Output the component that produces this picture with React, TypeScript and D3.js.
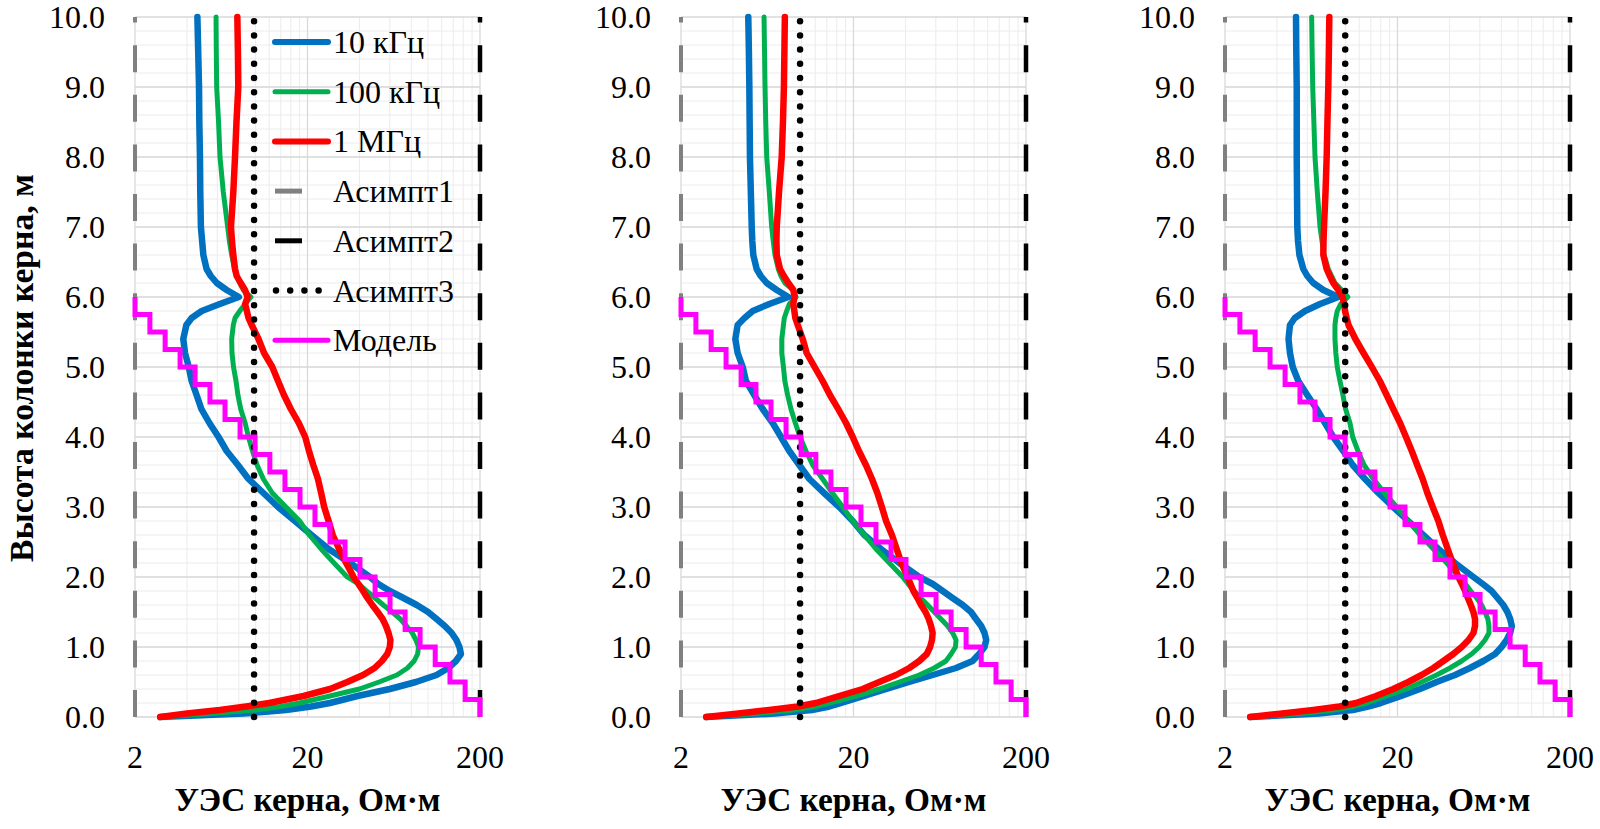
import * as React from 'react';
import * as d3 from 'd3';

// heights along the core column, m
const heights = [0, 0.05, 0.1, 0.15, 0.2, 0.3, 0.4, 0.5, 0.6, 0.7, 0.8, 0.9, 1.0, 1.1, 1.2, 1.3, 1.4, 1.5, 1.6, 1.7, 1.8, 1.9,
  2.0, 2.2, 2.4, 2.6, 2.8, 3.0, 3.2, 3.4, 3.6, 3.8, 4.0, 4.2, 4.4, 4.6, 4.8, 5.0, 5.2, 5.4, 5.6, 5.7, 5.8, 5.9,
  6.0, 6.1, 6.2, 6.3, 6.4, 6.6, 6.8, 7.0, 7.5, 8.0, 8.5, 9.0, 9.5, 10.0];

// panel 1
const blue1 = [2.8, 8.5, 15, 21, 27, 39, 60, 85, 112, 131, 145, 155, 152, 146, 137, 125, 112, 100, 86, 72, 60, 51.5,
  46, 35.3, 26.5, 21.1, 16.9, 13.5, 11.1, 9.1, 7.9, 6.8, 6.1, 5.4, 4.85, 4.55, 4.26, 4.1, 3.9, 3.81, 3.97, 4.26, 4.87, 6.2,
  8.0, 6.8, 5.96, 5.5, 5.2, 4.98, 4.9, 4.82, 4.78, 4.76, 4.72, 4.7, 4.65, 4.6];
const green1 = [2.8, 5.5, 10, 14, 18, 27, 40, 52, 66, 76, 83, 87, 88, 85, 81, 75, 69, 62, 55, 49.3, 44, 39.5,
  34, 28.5, 24, 20.5, 18, 15, 12.5, 11.1, 10.2, 9.6, 9.1, 8.7, 8.2, 7.9, 7.7, 7.45, 7.3, 7.27, 7.43, 7.6, 8.1, 8.7,
  9.4, 8.49, 8.1, 7.77, 7.55, 7.27, 7.05, 6.89, 6.5, 6.22, 6.1, 5.95, 5.92, 5.9];
const red1 = [2.8, 4.0, 6.2, 8.8, 12, 19, 27, 34, 42, 49, 54, 58, 60, 60.5, 59, 57, 54.5, 51, 47.5, 44.5, 42, 39.5,
  37, 33.5, 30.5, 28, 26.5, 25, 24, 23, 21.6, 20.4, 19.4, 17.8, 16, 14.6, 13.5, 12.5, 11.2, 10.4, 9.5, 9.1, 8.9, 8.7,
  9.0, 8.68, 8.2, 7.77, 7.6, 7.43, 7.3, 7.2, 7.43, 7.6, 7.75, 7.94, 7.9, 7.84];

// panel 2
const blue2 = [2.8, 7, 11.5, 14.5, 17, 23, 31, 42, 57.6, 78.6, 98, 107, 115, 117.6, 115, 110, 102.6, 96, 86, 75, 65.8, 57.6,
  48.1, 36.9, 28.9, 23.1, 19.8, 16.55, 13.5, 11.1, 9.7, 8.49, 7.6, 6.8, 5.95, 5.32, 4.76, 4.56, 4.26, 4.13, 4.26, 4.67, 5.21, 6.5,
  8.38, 7.18, 6.28, 5.8, 5.49, 5.25, 5.18, 5.14, 5.08, 5.02, 5.0, 4.98, 4.95, 4.91];
const green2 = [2.8, 5.5, 9.0, 12, 14.5, 20.7, 28.2, 36.9, 48.1, 58.8, 68.7, 73.6, 78, 78.6, 75.2, 70.3, 64.3, 58.8, 53.8, 49, 45, 41.5,
  38.6, 32.3, 27.0, 23.1, 19.8, 17.3, 15.1, 13.25, 11.6, 10.6, 9.8, 9.2, 8.68, 8.3, 8.0, 7.85, 7.68, 7.68, 7.85, 7.94, 8.2, 8.49,
  9.3, 8.96, 8.01, 7.6, 7.33, 7.01, 6.85, 6.71, 6.5, 6.28, 6.2, 6.14, 6.1, 6.06];
const red2 = [2.8, 4.3, 6.5, 9.5, 12.1, 16.5, 22.6, 28.2, 35.3, 42.1, 48.1, 53.2, 55.6, 57, 57.5, 56.3, 54.6, 52.3, 49.3, 47, 44.5, 42.8,
  41.2, 37.9, 35.6, 33.4, 30.9, 29.2, 27.5, 25.6, 23.6, 21.5, 19.8, 18.1, 16.3, 14.6, 13.25, 11.9, 10.7, 10.15, 9.5, 9.2, 9.08, 8.95,
  9.1, 8.96, 8.38, 7.9, 7.5, 7.18, 7.15, 7.18, 7.4, 7.67, 7.8, 7.9, 7.95, 8.0];

// panel 3
const blue3 = [2.8, 7, 11, 13.5, 16, 21, 27, 33.7, 43.1, 52.6, 62.9, 73.6, 80.2, 85.9, 90, 92, 90, 86.7, 82.1, 76, 70.3, 62.5,
  55.1, 43.1, 34.5, 28.2, 23.1, 18.9, 15.5, 12.97, 11.0, 9.7, 8.49, 7.6, 6.8, 6.0, 5.32, 4.94, 4.76, 4.67, 4.76, 5.08, 5.82, 7.11,
  9.08, 7.43, 6.5, 6.0, 5.69, 5.4, 5.3, 5.25, 5.23, 5.21, 5.21, 5.21, 5.18, 5.16];
const green3 = [2.8, 5.5, 8.5, 11, 13.3, 17.3, 22.6, 27.6, 33.7, 40.3, 47.1, 53.8, 59.6, 64.3, 67.8, 67.8, 66.8, 64.3, 61.5, 57.5, 53.2, 49.5,
  45.6, 38.6, 32.3, 27.0, 23.1, 19.8, 16.8, 14.5, 12.8, 11.8, 11.0, 10.6, 10.0, 9.65, 9.28, 8.95, 8.78, 8.68, 8.68, 8.78, 8.95, 9.37,
  10.3, 9.49, 8.68, 8.3, 7.94, 7.5, 7.3, 7.11, 6.86, 6.65, 6.55, 6.45, 6.4, 6.36];
const red3 = [2.8, 4.3, 6.5, 9.2, 11.5, 15, 18.9, 23.1, 27.6, 32.3, 36.9, 42.1, 47.1, 51.6, 55.1, 56.3, 56.3, 55.1, 53.2, 51.2, 49.3, 47.2,
  45.1, 41.8, 39.1, 36.6, 34.5, 32.0, 29.8, 28.0, 26.0, 24.2, 22.4, 20.7, 18.9, 17.3, 15.8, 14.2, 12.7, 11.4, 10.4, 10.15, 9.93, 9.8,
  9.6, 9.08, 8.49, 8.1, 7.77, 7.43, 7.45, 7.5, 7.65, 7.77, 7.85, 7.94, 8.0, 8.05];

// layered model: step edges (m) and resistivity of each layer
const modelEdges = [6.0, 5.75, 5.5, 5.25, 5.0, 4.75, 4.5, 4.25, 4.0, 3.75, 3.5, 3.25, 3.0, 2.75, 2.5, 2.25,
  2.0, 1.75, 1.5, 1.25, 1.0, 0.75, 0.5, 0.25, 0];
const modelValues = [2.0, 2.44, 2.99, 3.65, 4.46, 5.44, 6.65, 8.13, 9.93, 12.1, 14.8, 18.1, 22.1, 27.0, 33.0, 40.3,
  49.3, 60.2, 73.6, 89.9, 110, 134, 164, 200];

const asymptote1 = 2;
const asymptote2 = 200;
const asymptote3 = [9.8, 9.8, 9.95];

const yTicks = [0, 1, 2, 3, 4, 5, 6, 7, 8, 9, 10];
const xTicks = [2, 20, 200];
const legendLabels = ['10 кГц', '100 кГц', '1 МГц', 'Асимпт1', 'Асимпт2', 'Асимпт3', 'Модель'];

const panels = [
  { blue: blue1, green: green1, red: red1, asym3: asymptote3[0] },
  { blue: blue2, green: green2, red: red2, asym3: asymptote3[1] },
  { blue: blue3, green: green3, red: red3, asym3: asymptote3[2] },
];

const textStyle: React.CSSProperties = { fontFamily: "'Liberation Serif', 'DejaVu Serif', 'Times New Roman', Times, serif" };
const BLUE = '#0070C0';
const GREEN = '#00B050';
const RED = '#FF0000';
const MAGENTA = '#FF00FF';
const GRAY = '#808080';

const panelLeft = [135, 681, 1225];
const panelWidth = 345;
const plotTop = 17;
const plotBottom = 717;

const Panel = (props: { index: number }) => {
  const left = panelLeft[props.index];
  const p = panels[props.index];
  const x = d3.scaleLog().domain([2, 200]).range([left, left + panelWidth]);
  const y = d3.scaleLinear().domain([0, 10]).range([plotBottom, plotTop]);

  const curve = d3.line<number>()
    .x((v) => x(v))
    .y((_, i) => y(heights[i]));

  const modelPts: [number, number][] = modelValues.map((v, i) => [v, modelEdges[i]]);
  modelPts.push([modelValues[modelValues.length - 1], 0]);
  const model = d3.line<[number, number]>()
    .x((d) => x(d[0]))
    .y((d) => y(d[1]))
    .curve(d3.curveStepBefore);

  const vline = (v: number) => d3.line()([[x(v), y(0)], [x(v), y(10)]]) as string;

  const minorX = d3.range(2, 10).flatMap((k) => [2 * k, 20 * k]);
  const minorY = d3.range(0, 50).map((i) => i * 0.2);

  return (
    <g>
      {minorY.map((h) => (
        <line key={'my' + h} x1={left} x2={left + panelWidth} y1={y(h)} y2={y(h)} stroke="#ececec" strokeWidth={1} />
      ))}
      {minorX.map((v) => (
        <line key={'mx' + v} x1={x(v)} x2={x(v)} y1={plotTop} y2={plotBottom} stroke="#ececec" strokeWidth={1} />
      ))}
      {yTicks.map((h) => (
        <line key={'gy' + h} x1={left} x2={left + panelWidth} y1={y(h)} y2={y(h)} stroke="#d9d9d9" strokeWidth={1.3} />
      ))}
      {xTicks.map((v) => (
        <line key={'gx' + v} x1={x(v)} x2={x(v)} y1={plotTop} y2={plotBottom} stroke="#d9d9d9" strokeWidth={1.3} />
      ))}

      {yTicks.map((h) => (
        <text key={'ty' + h} x={left - 30} y={y(h) + 10.5} textAnchor="end" fontSize={32} style={textStyle}>
          {h.toFixed(1)}
        </text>
      ))}
      {xTicks.map((v) => (
        <text key={'tx' + v} x={x(v)} y={768} textAnchor="middle" fontSize={32} style={textStyle}>
          {v}
        </text>
      ))}
      <text x={left + panelWidth / 2} y={811} textAnchor="middle" fontSize={33} fontWeight="bold" style={textStyle}
        textLength={266} lengthAdjust="spacingAndGlyphs">
        УЭС керна, Ом·м
      </text>

      <path d={curve(p.blue) as string} fill="none" stroke={BLUE} strokeWidth={6.5} strokeLinejoin="round" strokeLinecap="round" />
      <path d={curve(p.green) as string} fill="none" stroke={GREEN} strokeWidth={5} strokeLinejoin="round" strokeLinecap="round" />
      <path d={curve(p.red) as string} fill="none" stroke={RED} strokeWidth={6.5} strokeLinejoin="round" strokeLinecap="round" />
      <path d={vline(asymptote1)} fill="none" stroke={GRAY} strokeWidth={4} strokeDasharray="27 22.6" />
      <path d={vline(asymptote2)} fill="none" stroke="#000" strokeWidth={4.5} strokeDasharray="27 22.6" />
      <path d={vline(p.asym3)} fill="none" stroke="#000" strokeWidth={6.5} strokeDasharray="0 14.2" strokeLinecap="round" />
      <path d={model(modelPts) as string} fill="none" stroke={MAGENTA} strokeWidth={5} />
    </g>
  );
};

const Legend = () => {
  const x0 = 275;
  const x1 = 328;
  const rowY = (i: number) => 42 + i * 49.7;
  const styles = [
    { stroke: BLUE, w: 6, dash: undefined, cap: 'round', end: x1 },
    { stroke: GREEN, w: 5, dash: undefined, cap: 'round', end: x1 },
    { stroke: RED, w: 6, dash: undefined, cap: 'round', end: x1 },
    { stroke: GRAY, w: 5, dash: undefined, cap: 'butt', end: 302 },
    { stroke: '#000', w: 5, dash: undefined, cap: 'butt', end: 302 },
    { stroke: '#000', w: 6.5, dash: '0 14.2', cap: 'round', end: 330 },
    { stroke: MAGENTA, w: 5, dash: undefined, cap: 'round', end: x1 },
  ];
  return (
    <g>
      {legendLabels.map((label, i) => (
        <g key={label}>
          <line x1={i === 5 ? 276 : x0} x2={styles[i].end} y1={rowY(i)} y2={rowY(i)} stroke={styles[i].stroke}
            strokeWidth={styles[i].w} strokeDasharray={styles[i].dash} strokeLinecap={styles[i].cap as any} />
          <text x={333} y={rowY(i) + 11} fontSize={32} style={textStyle}>{label}</text>
        </g>
      ))}
    </g>
  );
};

export default function App() {
  return (
    <div style={{ position: 'absolute', left: 0, top: 0 }}>
      <svg width={1600} height={829} style={{ display: 'block', background: '#fff' }}>
        <Panel index={0} />
        <Panel index={1} />
        <Panel index={2} />
        <Legend />
        <text transform="translate(33,368) rotate(-90)" textAnchor="middle" fontSize={33} fontWeight="bold" style={textStyle}
          textLength={388} lengthAdjust="spacingAndGlyphs">
          Высота колонки керна, м
        </text>
      </svg>
    </div>
  );
}
